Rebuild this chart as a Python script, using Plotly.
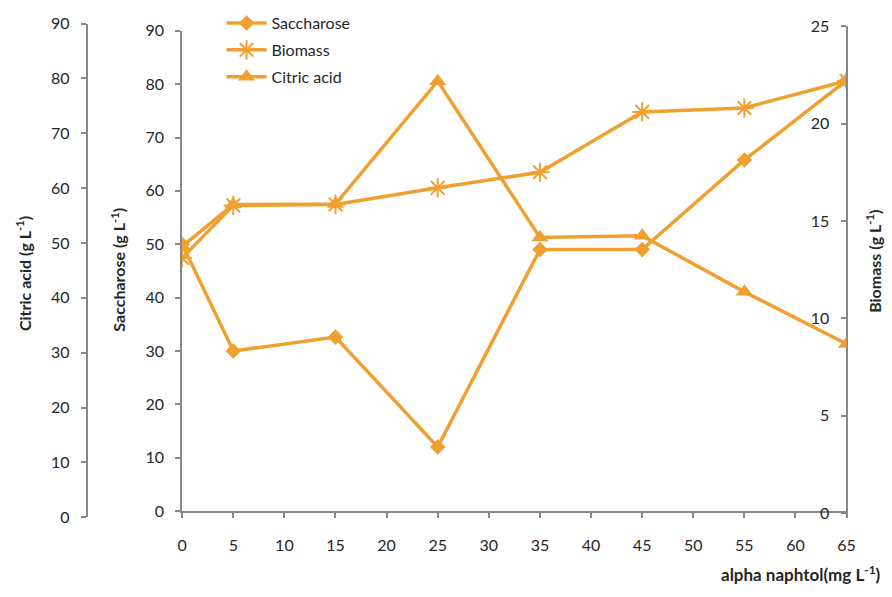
import plotly.graph_objects as go

# ---- data ----
alpha_naphtol = [0, 5, 15, 25, 35, 45, 55, 65]
saccharose = [50.0, 30.0, 32.6, 12.0, 49.0, 49.0, 65.8, 80.7]
biomass = [13.1, 15.8, 15.85, 16.7, 17.5, 20.6, 20.8, 22.2]
citric_acid = [49.4, 57.0, 57.1, 79.5, 51.0, 51.3, 41.1, 31.6]

x_ticks = [0, 5, 10, 15, 20, 25, 30, 35, 40, 45, 50, 55, 60, 65]

W, H = 892, 597
ORANGE = "#F0A030"
AXIS = "#878787"
TXT = "#262626"
FONT = "Lato"


def py(px):
    return 1 - px / H


def pxx(px):
    return px / W


fig = go.Figure()

fig.add_trace(go.Scatter(
    x=alpha_naphtol, y=saccharose, name="Saccharose", mode="lines+markers",
    xaxis="x", yaxis="y", legendgroup="a",
    line=dict(color=ORANGE, width=3.5),
    marker=dict(symbol="diamond", size=12, color=ORANGE),
))
fig.add_trace(go.Scatter(
    x=alpha_naphtol, y=biomass, name="Biomass", mode="lines+markers",
    xaxis="x", yaxis="y2", legendgroup="b",
    line=dict(color=ORANGE, width=3.5),
    marker=dict(symbol="asterisk-open", size=16, color=ORANGE,
                line=dict(color=ORANGE, width=2)),
))
fig.add_trace(go.Scatter(
    x=alpha_naphtol, y=citric_acid, name="Citric acid", mode="lines+markers",
    xaxis="x", yaxis="y3", legendgroup="c",
    line=dict(color=ORANGE, width=3.5),
    marker=dict(symbol="triangle-up", size=15, color=ORANGE),
))

tickfont = dict(family=FONT, size=16, color=TXT)
common = dict(showgrid=False, zeroline=False, showline=True, linecolor=AXIS,
              linewidth=2, tickcolor=AXIS, tickwidth=2, ticklen=5,
              tickfont=tickfont, fixedrange=True, ticks="outside")

fig.update_layout(
    width=W, height=H,
    margin=dict(l=0, r=0, t=0, b=0),
    paper_bgcolor="white",
    plot_bgcolor="rgba(0,0,0,0)",
    showlegend=True,
    legend=dict(x=pxx(220), y=py(-4), xanchor="left", yanchor="top",
                font=dict(family=FONT, size=16, color=TXT),
                bgcolor="rgba(0,0,0,0)", tracegroupgap=3,
                itemwidth=40),
    xaxis=dict(domain=[pxx(180), pxx(855)], range=[0, 65], tickvals=x_ticks,
               anchor="y", ticklabelstandoff=14, **common),
    yaxis=dict(domain=[py(517.5), py(21.5)], range=[0, 90], dtick=10,
               anchor="x", side="left", ticklabelstandoff=8, **common),
    yaxis2=dict(domain=[py(519.7), py(16.7)], range=[0, 25], dtick=5,
                anchor="free", position=pxx(855), side="left",
                ticklabelstandoff=8, **common),
    yaxis3=dict(domain=[py(524), py(14)], range=[0, 90], dtick=10,
                anchor="free", position=pxx(83), side="left",
                ticklabelstandoff=8, **common),
)

title_font = dict(family=FONT, size=16, color=TXT)
annos = [
    ("<b>Citric acid (g L<sup>-1</sup>)</b>", 19, 272, -90),
    ("<b>Saccharose (g L<sup>-1</sup>)</b>", 115, 268, -90),
    ("<b>Biomass (g L<sup>-1</sup>)</b>", 883, 260, -90),
]
for text, x, y, ang in annos:
    fig.add_annotation(text=text, x=pxx(x), y=py(y), xref="paper", yref="paper",
                       showarrow=False, textangle=ang, font=title_font,
                       xanchor="center", yanchor="middle")
fig.add_annotation(text="<b>alpha naphtol(mg L<sup>-1</sup>)</b>", x=pxx(892), y=py(582),
                   xref="paper", yref="paper", showarrow=False,
                   font=dict(family=FONT, size=17, color=TXT),
                   xanchor="right", yanchor="middle")

fig.write_html("out.html")
